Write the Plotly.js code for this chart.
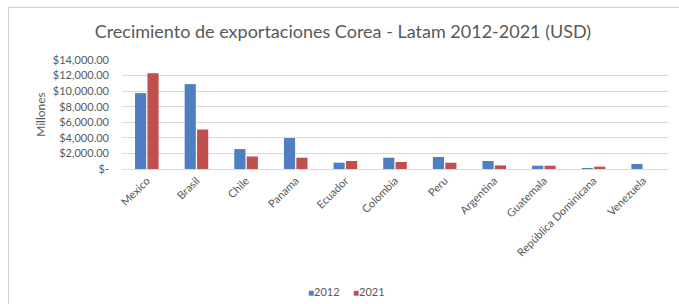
<!DOCTYPE html>
<html>
<head>
<meta charset="utf-8">
<script src="https://cdn.plot.ly/plotly-3.0.1.min.js"></script>
<style>
html,body{margin:0;padding:0;background:#fff;}
#wrap{position:relative;width:679px;height:304px;overflow:hidden;}
#chart{width:679px;height:304px;}
#frame{position:absolute;left:8px;top:7px;width:690px;height:320px;border-left:1px solid #d0d0d0;border-top:1px solid #d0d0d0;pointer-events:none;}
</style>
</head>
<body>
<div id="wrap"><div id="chart"></div><div id="frame"></div></div>
<script>
const countries = ["Mexico","Brasil","Chile","Panama","Ecuador","Colombia","Peru","Argentina","Guatemala","República Dominicana","Venezuela"];
const values2012 = [9750, 10900, 2560, 3970, 810, 1450, 1540, 1030, 420, 130, 640];
const values2021 = [12300, 5070, 1610, 1450, 1030, 900, 810, 460, 420, 300, 0];
const yTickVals = [0, 2000, 4000, 6000, 8000, 10000, 12000, 14000];
const yTickText = ["$-", "$2,000.00", "$4,000.00", "$6,000.00", "$8,000.00", "$10,000.00", "$12,000.00", "$14,000.00"];
const seriesNames = ["2012", "2021"];
const seriesColors = ["#4F7EC2", "#C0504D"];

const gray = "#595959";
const font = "Lato, 'Open Sans', sans-serif";

const data = [
  {type:"bar", name:seriesNames[0], x:countries, y:values2012, marker:{color:seriesColors[0]}},
  {type:"bar", name:seriesNames[1], x:countries, y:values2021, marker:{color:seriesColors[1]}}
];
const legendX = [0.337, 0.419];
const legendAnn = seriesNames.map((n,i)=>({
  text:"<span style='color:"+seriesColors[i]+";font-size:10px'>■</span>"+n,
  xref:"paper", yref:"paper", x:legendX[i], xanchor:"left", y:-1.12, yanchor:"middle",
  showarrow:false, font:{size:11, color:gray}
}));
const layout = {
  width:679, height:304,
  margin:{l:122, r:11, t:60, b:135},
  paper_bgcolor:"#fff", plot_bgcolor:"#fff",
  font:{family:font, color:gray, size:11},
  title:{text:"Crecimiento de exportaciones Corea - Latam 2012-2021 (USD)", x:0.505, xanchor:"center", y:0.895, yanchor:"middle", font:{family:font, size:18, color:gray}},
  barmode:"group", bargap:0.5, bargroupgap:0.1,
  showlegend:false,
  annotations:legendAnn,
  xaxis:{tickangle:-45, tickfont:{size:11, color:gray}, showgrid:false, showline:true, linecolor:"#d9d9d9", ticks:"", fixedrange:true, automargin:false},
  yaxis:{range:[0,14000], tickvals:yTickVals, ticktext:yTickText, tickfont:{size:11, color:gray}, showgrid:true, gridcolor:"#d9d9d9", zeroline:false, showline:false, ticklabelstandoff:12, automargin:false,
         title:{text:"Millones", font:{size:12, color:gray}, standoff:4}}
};
Plotly.newPlot("chart", data, layout, {displayModeBar:false, staticPlot:true});
</script>
</body>
</html>
